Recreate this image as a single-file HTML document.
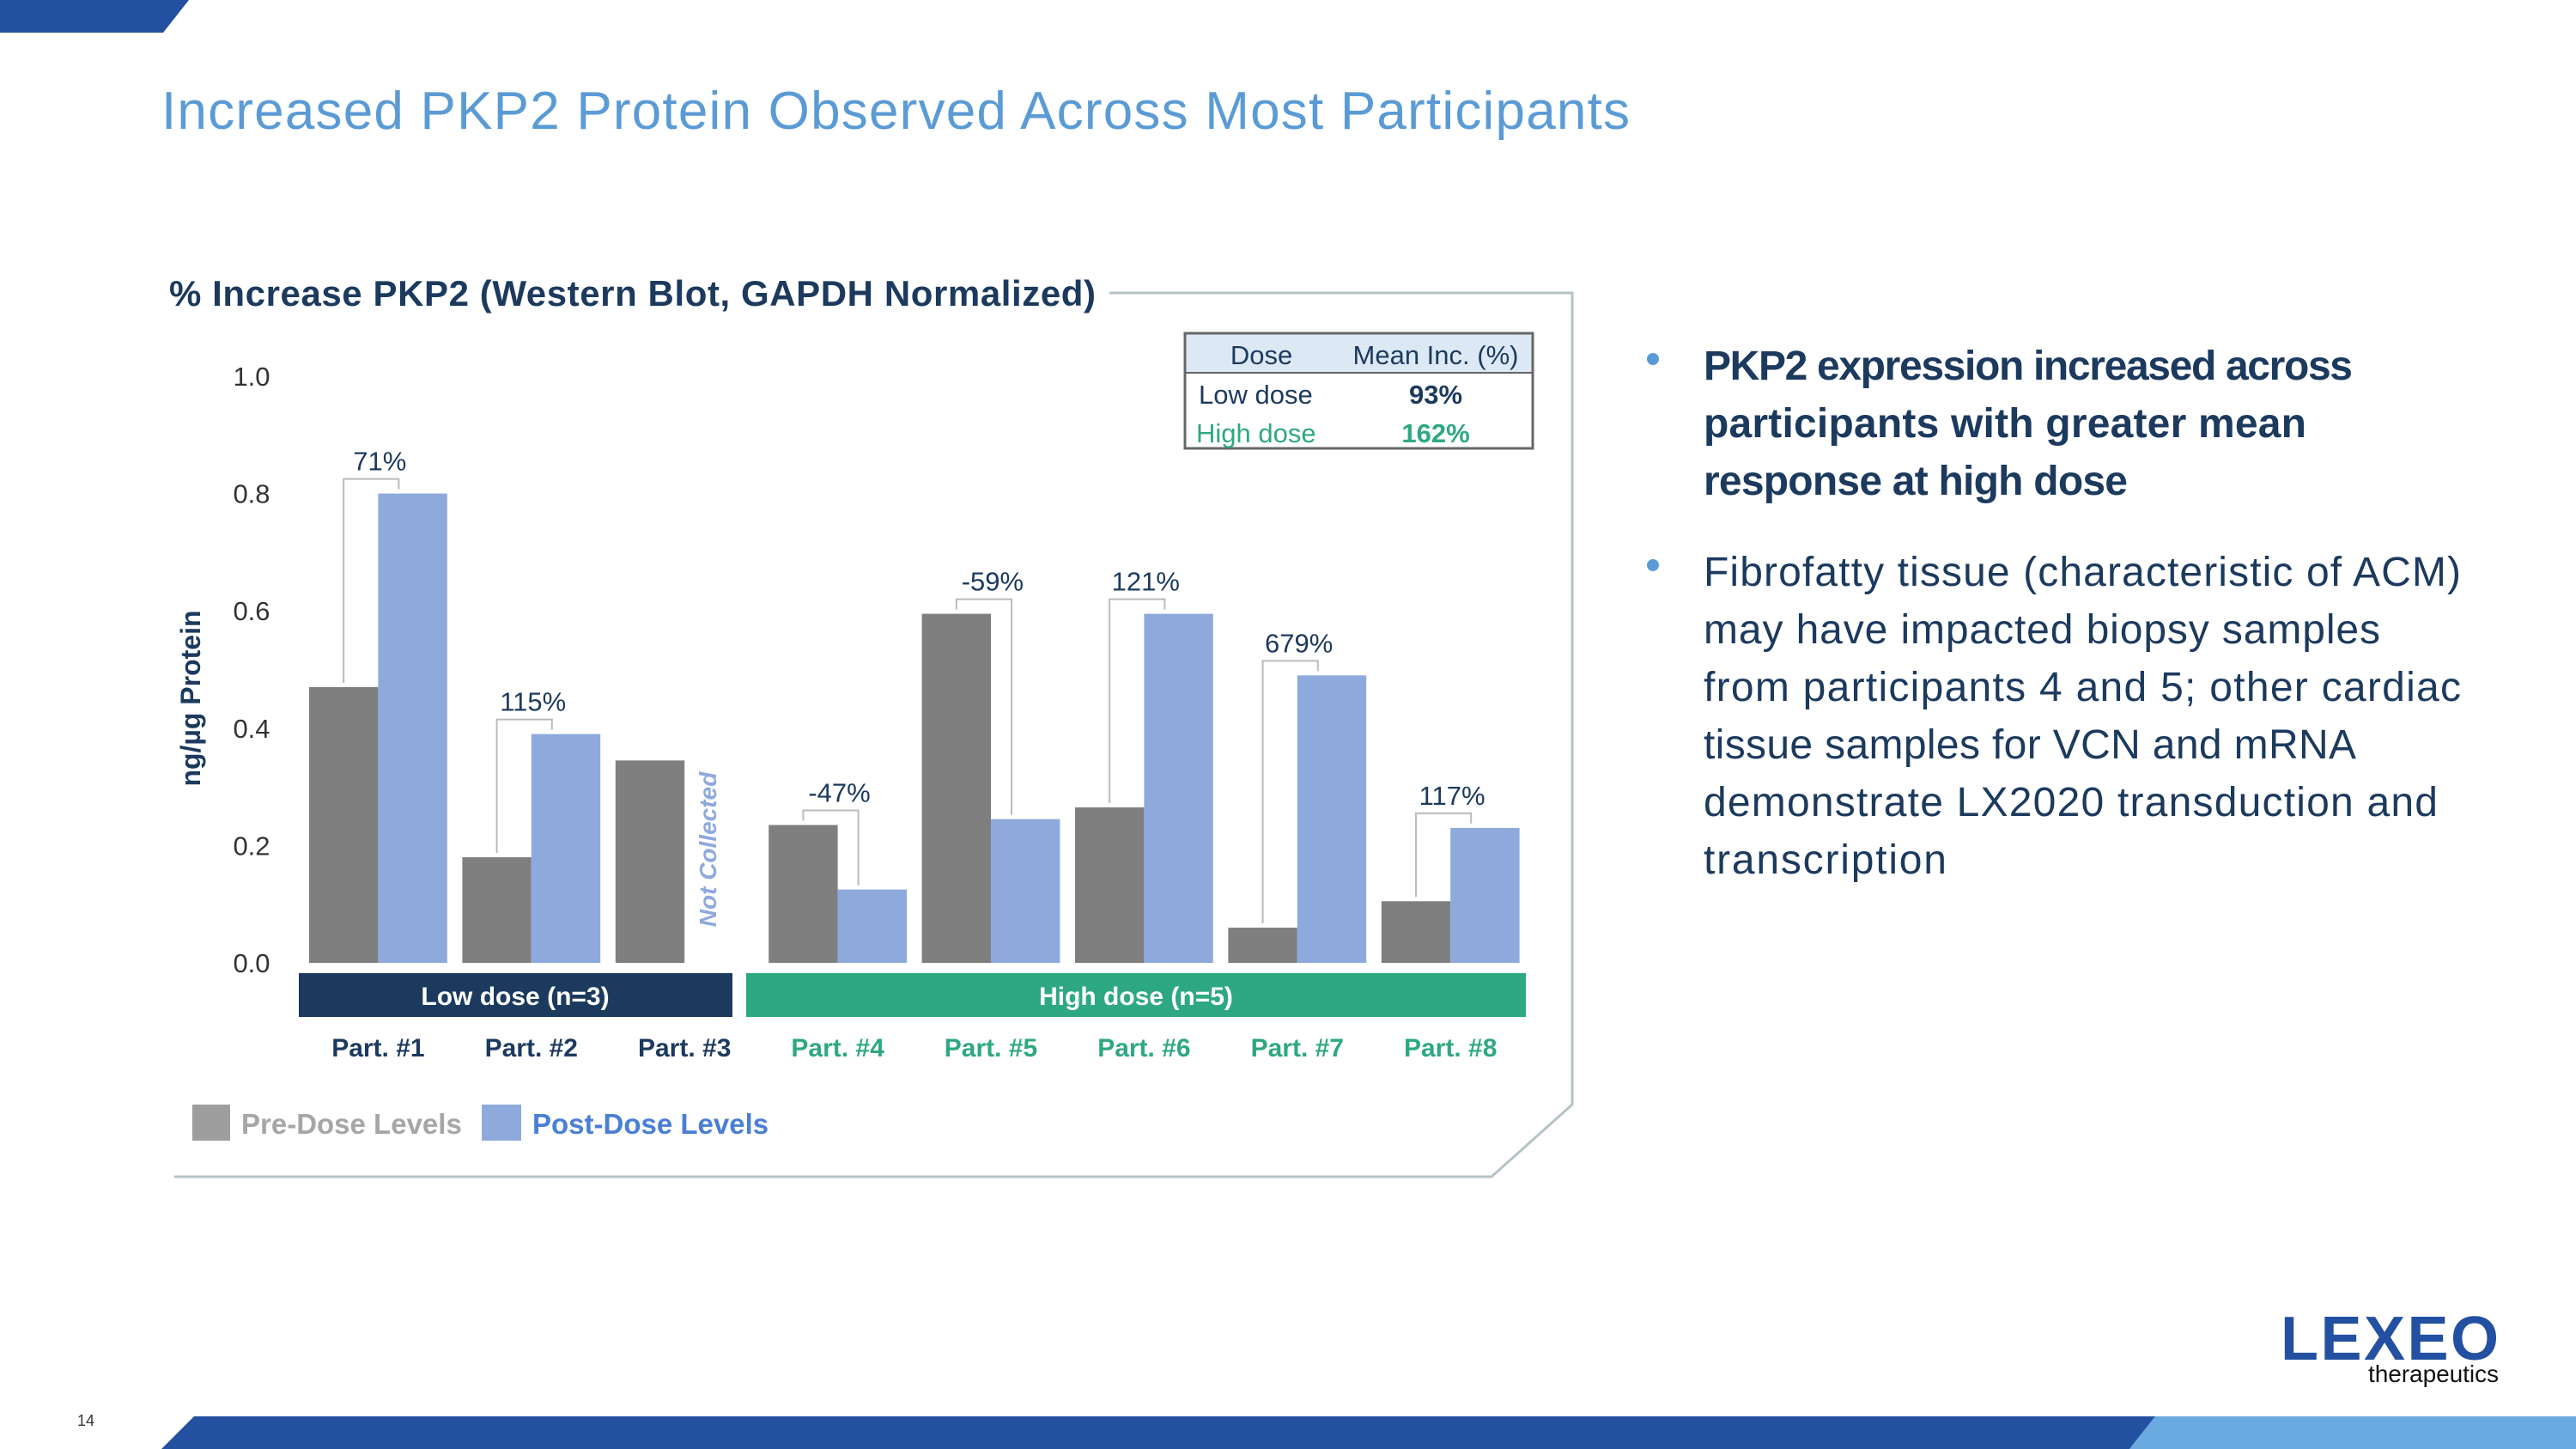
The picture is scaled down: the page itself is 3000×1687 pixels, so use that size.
<!DOCTYPE html>
<html><head><meta charset="utf-8"><style>
html,body{margin:0;padding:0;background:#fff;}
svg{display:block;font-family:"Liberation Sans",sans-serif;}
</style></head><body>
<svg id="s" width="3000" height="1687" viewBox="0 0 3000 1687" xmlns="http://www.w3.org/2000/svg">
<polygon points="0,0 220,0 190,38 0,38" fill="#2350a0"/>
<polygon points="226,1649 2510,1649 2480,1687 188,1687" fill="#2350a0"/>
<polygon points="2510,1649 3000,1649 3000,1687 2480,1687" fill="#6aaae0"/>
<text x="188" y="150" font-size="62" fill="#5b9bd5" textLength="1710">Increased PKP2 Protein Observed Across Most Participants</text>
<text x="197" y="356" font-size="42" font-weight="bold" fill="#1c3a5e" textLength="1079">% Increase PKP2 (Western Blot, GAPDH Normalized)</text>
<polyline points="1292,341 1831,341 1831,1286 1737,1370 203,1370" fill="none" stroke="#b5c3c6" stroke-width="3"/>
<g id="chart"></g>
<g>
<rect x="1380" y="388" width="405" height="46" fill="#dce9f5"/>
<rect x="1380" y="388" width="405" height="134" fill="none" stroke="#666" stroke-width="3"/>
<line x1="1380" y1="434" x2="1785" y2="434" stroke="#666" stroke-width="2"/>
<text x="1469" y="424" font-size="31" fill="#1c3a5e" text-anchor="middle">Dose</text>
<text x="1672" y="424" font-size="31" fill="#1c3a5e" text-anchor="middle">Mean Inc. (%)</text>
<text x="1396" y="470" font-size="31" fill="#1c3a5e">Low dose</text>
<text x="1672" y="470" font-size="31" font-weight="bold" fill="#1c3a5e" text-anchor="middle">93%</text>
<text x="1393" y="515" font-size="31" fill="#2ea882">High dose</text>
<text x="1672" y="515" font-size="31" font-weight="bold" fill="#2ea882" text-anchor="middle">162%</text>
</g>
<g fill="#1c3a5e" font-size="48">
<circle cx="1925" cy="418" r="7" fill="#5b9bd5"/>
<text x="1984" y="442" font-weight="bold" textLength="756">PKP2 expression increased across</text>
<text x="1984" y="509" font-weight="bold" textLength="702">participants with greater mean</text>
<text x="1984" y="576" font-weight="bold" textLength="494">response at high dose</text>
<circle cx="1925" cy="658" r="7" fill="#5b9bd5"/>
<text x="1984" y="682" textLength="882">Fibrofatty tissue (characteristic of ACM)</text>
<text x="1984" y="749" textLength="788">may have impacted biopsy samples</text>
<text x="1984" y="816" textLength="882">from participants 4 and 5; other cardiac</text>
<text x="1984" y="883" textLength="760">tissue samples for VCN and mRNA</text>
<text x="1984" y="950" textLength="855">demonstrate LX2020 transduction and</text>
<text x="1984" y="1017" textLength="283">transcription</text>
</g>
<text x="2656" y="1583" font-size="72" font-weight="bold" fill="#2350a0" textLength="254">LEXEO</text>
<text x="2758" y="1609" font-size="28" fill="#111" textLength="152">therapeutics</text>
<text x="90" y="1660" font-size="18" fill="#333">14</text>
</svg>
<script>
const categories = ["Part. #1","Part. #2","Part. #3","Part. #4","Part. #5","Part. #6","Part. #7","Part. #8"];
const preDose = [0.47,0.18,0.345,0.235,0.595,0.265,0.06,0.105];
const postDose = [0.80,0.39,null,0.125,0.245,0.595,0.49,0.23];
const pctLabels = ["71%","115%",null,"-47%","-59%","121%","679%","117%"];
const yTicks = [0,0.2,0.4,0.6,0.8,1.0];
const tickLabels = ["0.0","0.2","0.4","0.6","0.8","1.0"];
const doseGroups = ["low","low","low","high","high","high","high","high"];

const NS="http://www.w3.org/2000/svg";
const g=document.getElementById('chart');
const y0=1121, yScale=683;
const yPos=v=>y0-v*yScale;
const x0=360, pitch=178.4, bw=80.4;
const xPos=i=>x0+i*pitch;
function mk(tag,attrs,parent){const e=document.createElementNS(NS,tag);for(const k in attrs)e.setAttribute(k,attrs[k]);(parent||g).appendChild(e);return e;}

yTicks.forEach((t,i)=>{
  const e=mk('text',{x:293,y:yPos(t)+11,'font-size':31,fill:'#333','text-anchor':'middle'});
  e.textContent=tickLabels[i];
  
  
});
const yt=mk('text',{x:0,y:0,'font-size':32,'font-weight':'bold',fill:'#1c3a5e','text-anchor':'middle',transform:'translate(233,813) rotate(-90)'});
yt.textContent='ng/µg Protein';



categories.forEach((c,i)=>{
  const x=xPos(i);
  const b1=mk('rect',{x:x,y:yPos(preDose[i]),width:bw,height:preDose[i]*yScale,fill:'#7f7f7f'});
  
  
  if(postDose[i]!=null){
    const b2=mk('rect',{x:x+bw,y:yPos(postDose[i]),width:bw,height:postDose[i]*yScale,fill:'#8eaadc'});
    
    
  }
  if(pctLabels[i]){
    const tPre=yPos(preDose[i]), tPost=yPos(postDose[i]);
    const top=Math.min(tPre,tPost)-17;
    const lx=x+bw/2, rx=x+bw+24;
    const br=mk('polyline',{points:`${lx},${tPre-5} ${lx},${top} ${rx},${top} ${rx},${tPost-5}`,fill:'none',stroke:'#bbb','stroke-width':2});
    
    
    const lb=mk('text',{x:(lx+rx)/2+10,y:top-10,'font-size':31,fill:'#1c3a5e','text-anchor':'middle'});
    lb.textContent=pctLabels[i];
    
    
  }
  const cl=mk('text',{x:x+bw,y:1230,'font-size':30,'font-weight':'bold',fill:doseGroups[i]==='low'?'#1c3a5e':'#2ea882','text-anchor':'middle'});
  cl.textContent=c;
  
  
});
const nc=mk('text',{x:0,y:0,'font-size':28,'font-weight':'bold','font-style':'italic',fill:'#8fa9dc','text-anchor':'middle',transform:'translate(834,989) rotate(-90)'});
nc.textContent='Not Collected';



const lowBand=mk('rect',{x:348,y:1133,width:505,height:51,fill:'#1c3a5e'});


const highBand=mk('rect',{x:869,y:1133,width:908,height:51,fill:'#2ea882'});


const lt=mk('text',{x:600,y:1170,'font-size':30,'font-weight':'bold',fill:'#fff','text-anchor':'middle'});
lt.textContent='Low dose (n=3)';


const ht=mk('text',{x:1323,y:1170,'font-size':30,'font-weight':'bold',fill:'#fff','text-anchor':'middle'});
ht.textContent='High dose (n=5)';



const l1=mk('rect',{x:224,y:1286,width:44,height:42,fill:'#9e9e9e'});


const l1t=mk('text',{x:281,y:1320,'font-size':33,'font-weight':'bold',fill:'#a6a6a6'});
l1t.textContent='Pre-Dose Levels';


const l2=mk('rect',{x:561,y:1286,width:46,height:42,fill:'#8eaadc'});


const l2t=mk('text',{x:620,y:1320,'font-size':33,'font-weight':'bold',fill:'#4a7fd4'});
l2t.textContent='Post-Dose Levels';


</script>
</body></html>
